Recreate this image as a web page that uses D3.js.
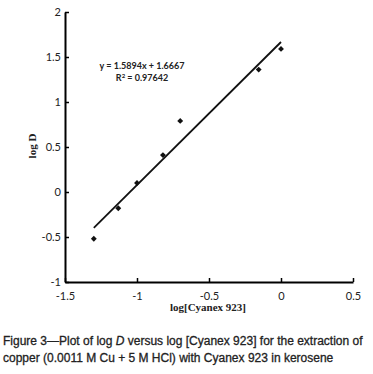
<!DOCTYPE html>
<html>
<head>
<meta charset="utf-8">
<script src="https://cdn.jsdelivr.net/npm/d3@7"></script>
<style>
  body { margin: 0; background: #fff; }
  svg { display: block; }
</style>
</head>
<body>
<svg id="chart" width="373" height="374"></svg>
<script>
/* data */
var logCyanex = [-1.3, -1.13, -1.0, -0.82, -0.7, -0.155, 0.0];
var logD = [-0.52, -0.18, 0.1, 0.41, 0.79, 1.36, 1.59];
var slope = 1.5894, intercept = 1.6667;
var xTicks = [-1.5, -1, -0.5, 0, 0.5];
var yTicks = [-1, -0.5, 0, 0.5, 1, 1.5, 2];

var svg = d3.select("#chart");

var xScale = d3.scaleLinear().domain([-1.5, 0.5]).range([65, 353]);
var yScale = d3.scaleLinear().domain([-1, 2]).range([282, 12]);

function fmt(d){ return d3.format("")(d).replace("\u2212", "-"); }

/* x axis, ticks pointing inwards */
var xAxisG = svg.append("g")
    .attr("transform", "translate(0," + yScale(-1) + ")")
    .call(d3.axisBottom(xScale).tickValues(xTicks).tickSize(-4).tickSizeOuter(0).tickFormat(fmt));
xAxisG.select(".domain").attr("stroke-width", 2);
xAxisG.selectAll(".tick line").attr("stroke-width", 1.5);
xAxisG.selectAll("text")
    .attr("y", 10)
    .style("font-family", "Lato, 'Open Sans', sans-serif")
    .style("font-size", "11px")
    .attr("fill", "#222");

/* y axis */
var yAxisG = svg.append("g")
    .attr("transform", "translate(" + xScale(-1.5) + ",0)")
    .call(d3.axisLeft(yScale).tickValues(yTicks).tickSize(-4).tickSizeOuter(0).tickFormat(fmt));
yAxisG.select(".domain").attr("stroke-width", 2);
yAxisG.selectAll(".tick line").attr("stroke-width", 1.5);
yAxisG.selectAll("text")
    .attr("x", -4)
    .style("font-family", "Lato, 'Open Sans', sans-serif")
    .style("font-size", "11px")
    .attr("fill", "#222");

/* trend line */
var xMin = d3.min(logCyanex), xMax = d3.max(logCyanex);
svg.append("line")
    .attr("x1", xScale(xMin)).attr("y1", yScale(slope * xMin + intercept))
    .attr("x2", xScale(xMax)).attr("y2", yScale(slope * xMax + intercept))
    .attr("stroke", "#111")
    .attr("stroke-width", 1.8);

/* diamond markers */
svg.selectAll(".pt")
  .data(logCyanex)
  .enter()
  .append("path")
    .attr("class", "pt")
    .attr("d", d3.symbol().type(d3.symbolDiamond2).size(22))
    .attr("transform", function(d, i){ return "translate(" + xScale(d) + "," + yScale(logD[i]) + ")"; })
    .attr("fill", "#111");

/* equation */
var eq = svg.append("g")
    .style("font-family", "Lato, 'Open Sans', sans-serif")
    .style("font-size", "9px")
    .style("font-weight", "bold")
    .attr("fill", "#222")
    .attr("text-anchor", "middle");
eq.append("text").attr("x", 142).attr("y", 69).text("y = 1.5894x + 1.6667");
var r2 = eq.append("text").attr("x", 142).attr("y", 81);
r2.append("tspan").text("R");
r2.append("tspan").attr("dy", -3).style("font-size", "6px").text("2");
r2.append("tspan").attr("dy", 3).text(" = 0.97642");

/* axis titles */
svg.append("text")
    .attr("transform", "translate(36,146) rotate(-90)")
    .attr("text-anchor", "middle")
    .style("font-family", "'Liberation Serif', serif")
    .style("font-size", "11px")
    .style("font-weight", "bold")
    .attr("fill", "#222")
    .text("log D");

svg.append("text")
    .attr("x", 208).attr("y", 311)
    .attr("text-anchor", "middle")
    .style("font-family", "'Liberation Serif', serif")
    .style("font-size", "11px")
    .style("font-weight", "bold")
    .attr("fill", "#222")
    .text("log[Cyanex 923]");

/* caption */
var cap = svg.append("g")
    .style("font-family", "'Liberation Sans', Arial, sans-serif")
    .style("font-size", "12px")
    .attr("fill", "#222")
    .attr("stroke", "#222")
    .attr("stroke-width", 0.3);
var l1 = cap.append("text").attr("x", 3).attr("y", 345);
l1.append("tspan").text("Figure 3\u2014Plot of log ");
l1.append("tspan").style("font-style", "italic").text("D");
l1.append("tspan").text(" versus log [Cyanex 923] for the extraction of");
cap.append("text").attr("x", 3).attr("y", 362)
    .text("copper (0.0011 M Cu + 5 M HCl) with Cyanex 923 in kerosene");
</script>
</body>
</html>
